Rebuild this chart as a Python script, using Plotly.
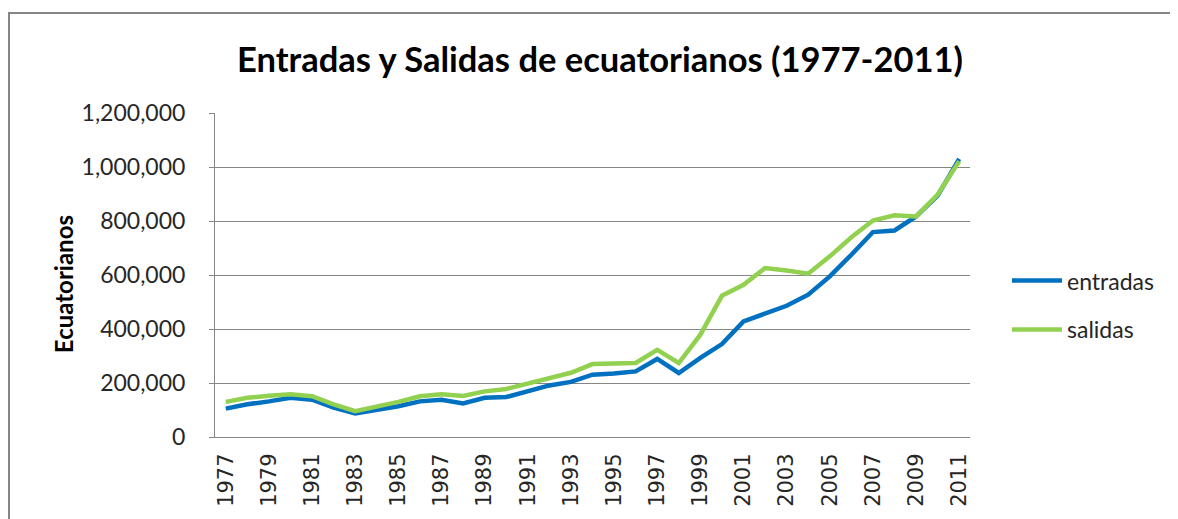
import plotly.graph_objects as go

years = [str(y) for y in range(1977, 2012)]
entradas = [105000, 121000, 132000, 145000, 138000, 109000, 87000, 99000, 114000, 132000,
            138000, 124000, 145000, 148000, 170000, 191000, 204000, 231000, 235000, 243000,
            289000, 237000, 293000, 344000, 428000, 459000, 486000, 527000, 595000, 675000,
            759000, 765000, 817000, 894000, 1030000]
salidas = [130000, 145000, 153000, 158000, 151000, 121000, 96000, 111000, 130000, 151000,
           158000, 152000, 169000, 178000, 198000, 219000, 238000, 270000, 270000, 274000,
           323000, 274000, 379000, 523000, 564000, 626000, 617000, 605000, 669000, 740000,
           802000, 821000, 817000, 898000, 1021000]
tick_years = years[::2]
y_ticks = [0, 200000, 400000, 600000, 800000, 1000000, 1200000]
y_labels = ["0", "200,000", "400,000", "600,000", "800,000", "1,000,000", "1,200,000"]

OFF = 8  # page body margin
W, H = 1178 - OFF, 519 - OFF
L, R, T, B = 215 - OFF, 970 - OFF, 112.7 - OFF, 437 - OFF

fig = go.Figure()
fig.add_trace(go.Scatter(x=years, y=entradas, mode="lines", name="entradas",
                         line=dict(color="#0070C0", width=4.5), legendgroup="a"))
fig.add_trace(go.Scatter(x=years, y=salidas, mode="lines", name="salidas",
                         line=dict(color="#92D050", width=4.5), legendgroup="b"))

fig.update_layout(
    width=W, height=H,
    margin=dict(l=L, r=W - R, t=T, b=H - B, autoexpand=False),
    paper_bgcolor="white", plot_bgcolor="white",
    title=dict(text="<b>Entradas y Salidas de ecuatorianos (1977-2011)</b>",
               font=dict(family="Lato", size=34.5, color="black"),
               xref="container", x=(600 - OFF) / W, xanchor="center",
               yref="container", y=1 - (60 - OFF) / H, yanchor="middle"),
    legend=dict(x=(1007 - OFF - L) / (R - L), xanchor="left",
                y=(B - (305 - OFF)) / (B - T), yanchor="middle",
                font=dict(family="Lato", size=23, color="#262626"),
                tracegroupgap=16, itemwidth=50, bgcolor="rgba(0,0,0,0)"),
    showlegend=True,
)
fig.update_xaxes(type="category", tickmode="array", tickvals=tick_years, ticktext=tick_years,
                 range=[-0.5, len(years) - 0.5],
                 tickangle=-90, tickfont=dict(family="DejaVu Sans", size=21, color="#262626"),
                 showline=True, linecolor="#868686", linewidth=1, showgrid=False,
                 ticks="", ticklabelstandoff=7, automargin=False)
fig.update_yaxes(range=[0, 1200000], tickmode="array", tickvals=y_ticks, ticktext=y_labels,
                 tickfont=dict(family="Lato", size=23, color="#262626"),
                 showline=True, linecolor="#868686", linewidth=1,
                 showgrid=True, gridcolor="#868686", gridwidth=1,
                 ticks="outside", ticklen=5, tickcolor="#868686",
                 ticklabelstandoff=19, automargin=False, zeroline=False)

# y-axis title
fig.add_annotation(text="<b>Ecuatorianos</b>", textangle=-90, showarrow=False,
                   xref="paper", yref="paper",
                   x=(63 - OFF - L) / (R - L), xanchor="center",
                   y=(B - (284 - OFF)) / (B - T), yanchor="middle",
                   font=dict(family="Lato", size=24, color="black"))

# outer chart border (top and left edges visible)
fig.add_shape(type="rect", xref="paper", yref="paper",
              x0=(1 - L) / (R - L), x1=(1400 - L) / (R - L),
              y0=(B - 700) / (B - T), y1=(B - (12.7 - OFF)) / (B - T),
              line=dict(color="#868686", width=2), fillcolor="rgba(0,0,0,0)", layer="below")

fig.write_html("out.html")
